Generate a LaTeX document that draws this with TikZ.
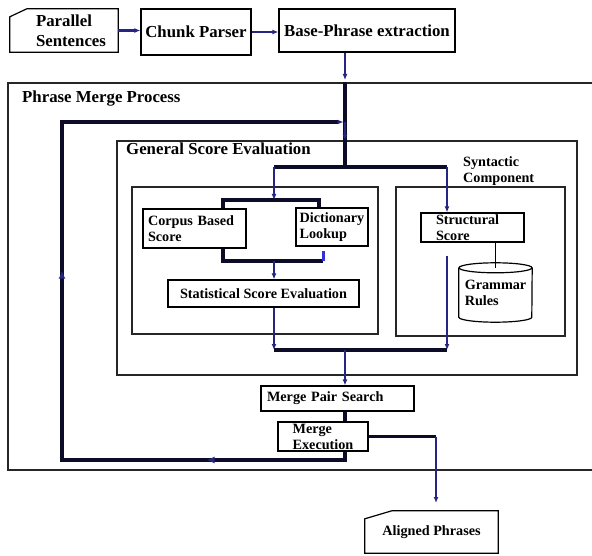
\documentclass[tikz,border=0pt]{standalone}
\usepackage{fontspec}
\setmainfont{Liberation Serif}
\usetikzlibrary{arrows.meta,decorations.markings}

\definecolor{navy}{RGB}{38,38,130}
\definecolor{ink}{RGB}{12,12,40}
\definecolor{lightnavy}{RGB}{50,50,210}

\tikzset{
  box/.style={draw, line width=1.2pt, inner ysep=0pt},
  frame/.style={draw=black!85, line width=1.3pt, inner sep=0pt},
  bigtext/.style={font=\fontsize{16.8}{20}\selectfont\bfseries, inner sep=0pt},
  smalltext/.style={font=\fontsize{14.2}{16}\selectfont\bfseries},
  flow/.style={navy, line width=2.2pt, -{Latex[length=6pt,width=5pt]}},
  bar/.style={ink, line width=3.5pt},
  feedback/.style={bar, -{Latex[length=6pt,width=5pt,color=navy]}, shorten >=1.5pt,
    postaction={decorate}, decoration={markings,
      mark=at position 0.161 with {\arrow[navy]{Latex[length=8pt,width=7pt]}},
      mark=at position 0.527 with {\arrow[navy]{Latex[length=8pt,width=7pt]}}}},
}

\begin{document}
\begin{tikzpicture}[x=1pt,y=-1pt]
\useasboundingbox (0,0) rectangle (592,556);
\clip (0,0) rectangle (592,556);

\node[bigtext, align=left, minimum width=94, minimum height=43] (par) at (71,30.5) {Parallel\\Sentences};
\draw[line width=1.2pt] ([xshift=-14pt]par.south west) -- (par.south east) -- (par.north east) -- ([xshift=3pt]par.north west) -- ([xshift=-14pt,yshift=-8pt]par.north west) -- cycle;
\node[box, bigtext, minimum width=110, minimum height=46] (chunk) at (196,32) {Chunk Parser};
\node[box, bigtext, minimum width=176, minimum height=43] (base) at (367,30.5) {Base-Phrase extraction};

\node[frame, minimum width=590, minimum height=387] (pmpbox) at (303,276.5) {};
\node[bigtext, anchor=base west] (pmp) at (22,103) {Phrase Merge Process};
\node[frame, minimum width=460, minimum height=234] (gsebox) at (347,258) {};
\node[bigtext, anchor=base west] (gse) at (126,155) {General Score Evaluation};
\node[frame, minimum width=246, minimum height=147] (lexbox) at (255,260.5) {};
\node[frame, minimum width=169, minimum height=149] (synbox) at (480.5,261.5) {};
\node[smalltext, align=left, anchor=north west, inner sep=0pt] (syn) at (463,156) {Syntactic\\Component};

\node[box, smalltext, text width=93, align=left, inner xsep=5pt, minimum height=39] (corpus) at (194.5,228.5) {Corpus Based\\Score};
\node[box, smalltext, align=left, minimum width=72, minimum height=38] (dict) at (332,227) {Dictionary\\Lookup};
\node[box, smalltext, minimum width=191, minimum height=27] (stat) at (263.5,293.5) {Statistical Score Evaluation};
\node[box, smalltext, text width=73, align=left, inner xsep=15pt, minimum height=29] (struct) at (472.5,227.5) {Structural\\Score};
\node[smalltext, align=left, minimum width=73, minimum height=49] (gram) at (495.5,292.5) {Grammar\\Rules};
\draw[line width=1.2pt] (gram.north) ellipse [x radius=36.5pt, y radius=5pt];
\draw[line width=1.2pt] (gram.north west) -- (gram.south west) arc[start angle=180, end angle=360, x radius=36.5pt, y radius=5pt] -- (gram.north east);

\node[box, smalltext, text width=141, align=left, inner xsep=6pt, minimum height=25] (mps) at (337.5,398.5) {Merge Pair Search};
\node[box, smalltext, align=left, minimum width=90, minimum height=29] (mexe) at (323,436.5) {Merge\\Execution};
\node[smalltext, minimum width=133, minimum height=42] (aligned) at (431.5,532) {Aligned Phrases};
\draw[line width=1.2pt] (aligned.south west) -- (aligned.south east) -- (aligned.north east) -- ([xshift=27pt]aligned.north west) -- ([yshift=-8pt]aligned.north west) -- cycle;

\coordinate (entry) at (345,80);
\coordinate (join) at (345,122);
\coordinate (lsplit) at (274,167);
\coordinate (rsplit) at (447,167);
\coordinate (bl) at (223,200);
\coordinate (br) at (319,200);
\coordinate (cl) at (223,261);
\coordinate (cr) at (323,261);
\coordinate (lmerge) at (274,350);
\coordinate (rmerge) at (447,350);
\coordinate (out) at (436,436.5);
\coordinate (outend) at (436,503);
\coordinate (lb) at (62,460);
\coordinate (lt) at (62,122);

\draw[flow] (par.east) -- (par.east -| chunk.west);
\draw[flow] (chunk.east) -- (chunk.east -| base.west);
\draw[flow] (entry |- base.south) -- (entry);
\draw[bar] (entry |- pmpbox.north) -- (join |- lsplit);
\draw[feedback] (join |- mexe.south) -- (join |- lb) -- (lb) -- (lt) -- (join);
\draw[flow] (join) -- (join |- gsebox.north);

\draw[bar] (lsplit) -- (rsplit);
\draw[flow] (lsplit) -- (lsplit |- bl);
\draw[bar] (bl |- corpus.north) -- (bl) -- (br) -- (br |- dict.north);
\draw[bar] (bl |- corpus.south) -- (cl) -- (cr);
\draw[lightnavy, line width=3pt, shorten >=4pt] (cr) -- (cr |- dict.south);
\draw[flow] (lsplit |- cl) -- (lsplit |- stat.north);
\draw[flow] (lsplit |- stat.south) -- (lmerge);
\draw[bar] (lmerge) -- (rmerge);
\draw[flow] (rsplit) -- (rsplit |- struct.north);
\draw[flow] ([yshift=-13pt]rsplit |- struct.south) -- (rmerge);
\draw[line width=1.2pt] (gram.north |- struct.south) -- (gram.north);

\draw[flow] (join |- lmerge) -- (join |- mps.north);
\draw[bar] (join |- mps.south) -- (join |- mexe.north);
\draw[bar] (mexe.east) -- (out);
\draw[flow] (out) -- (outend);
\end{tikzpicture}
\end{document}
